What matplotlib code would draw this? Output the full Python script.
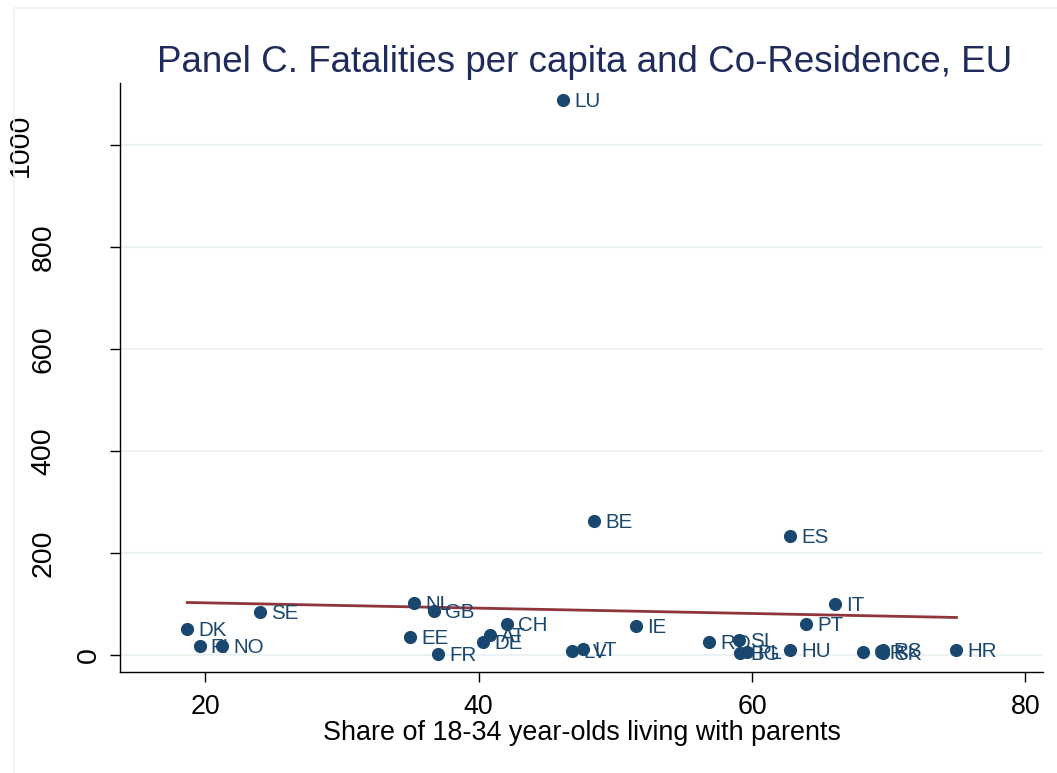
import numpy as np
import matplotlib
matplotlib.use("Agg")
import matplotlib.pyplot as plt
import matplotlib.transforms as mtransforms
from matplotlib.patches import Rectangle

countries = ["LU", "BE", "ES", "IT", "PT", "NL", "GB", "SE", "DK", "FI", "NO", "EE", "FR",
             "CH", "AT", "DE", "LV", "LT", "IE", "RO", "SI", "BG", "PL", "HU", "GR", "RS",
             "SK", "HR"]
coresidence = [46.2, 48.45, 62.8, 66.1, 63.95, 35.3, 36.75, 24.0, 18.7, 19.6, 21.25, 35.0, 37.05,
               42.1, 40.85, 40.35, 46.85, 47.65, 51.5, 56.85, 59.05, 59.1, 59.6, 62.8, 68.1, 69.55,
               69.6, 74.95]
fatalities = [1088, 263, 233, 100, 61, 102, 86, 84, 51, 18, 18, 35, 2,
              61, 39, 25, 8, 12, 57, 25, 29, 3, 5, 10, 6, 10,
              4, 10]

x_ticks = [20, 40, 60, 80]
y_ticks = [0, 200, 400, 600, 800, 1000]

navy = "#1A476F"
title_col = "#1E2B5C"
maroon = "#90353B"
grid_col = "#EAF2F3"

plt.rcParams['font.family'] = ['Liberation Sans', 'DejaVu Sans']

fig = plt.figure(figsize=(10.57, 7.73), dpi=100)
fig.patch.set_facecolor("white")
fig.add_artist(Rectangle((14 / 1057, -0.05), 1.2, (773 - 8) / 773 + 0.05,
                         transform=fig.transFigure, fill=False, edgecolor=grid_col, lw=1.2))

ax = fig.add_axes([120 / 1057, 1 - 672 / 773, (1043 - 120) / 1057, (672 - 83) / 773])
ax.set_xlim(13.78, 81.28)
ax.set_ylim(-33.3, 1121.6)

for yt in y_ticks:
    ax.axhline(yt, color=grid_col, lw=1.5, zorder=0)

xs = np.array(coresidence)
ys = np.array(fatalities)
ax.scatter(xs, ys, s=90, color=navy, zorder=3, linewidths=0)
for c, xv, yv in zip(countries, xs, ys):
    ax.annotate(c, (xv, yv), xytext=(8, -1), textcoords="offset points",
                ha="left", va="center", fontsize=14.8, color=navy, zorder=4)

b, a = np.polyfit(xs, ys, 1)
xl = np.array([xs.min(), xs.max()])
ax.plot(xl, a + b * xl, color=maroon, lw=2, zorder=2)

ax.set_xticks(x_ticks)
ax.set_yticks(y_ticks)
ax.set_yticklabels([])
ax.tick_params(axis="both", direction="out", length=7.2, width=1, labelsize=19.3,
               colors="black", pad=9)

# y tick labels, vertical, placed Stata-style (offset grows with label length)
ylab_tr = mtransforms.blended_transform_factory(fig.transFigure, ax.transData)
for yt in y_ticks:
    s = str(yt)
    xc = (111 - 22.5 * len(s)) / 1057
    ax.text(xc, yt, s, transform=ylab_tr, rotation=90, ha="center", va="center",
            fontsize=20.5, color="black", clip_on=False)

for s in ["top", "right"]:
    ax.spines[s].set_visible(False)
for s in ["left", "bottom"]:
    ax.spines[s].set_linewidth(1)
    ax.spines[s].set_color("black")

ax.set_xlabel("Share of 18-34 year-olds living with parents", fontsize=19.4, labelpad=0)
fig.text(585 / 1057, 1 - 72 / 773, "Panel C. Fatalities per capita and Co-Residence, EU",
         ha="center", va="baseline", fontsize=26.5, color=title_col)

fig.savefig("out.png", dpi=100, facecolor="white")
